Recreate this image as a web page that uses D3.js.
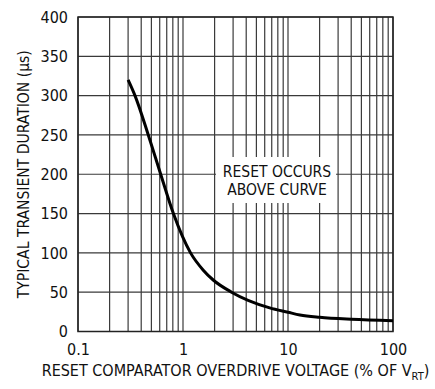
<!DOCTYPE html>
<html>
<head>
<meta charset="utf-8">
<script src="https://cdn.jsdelivr.net/npm/d3@7"></script>
<style>
  html, body { margin: 0; padding: 0; background: #fff; }
  svg text { font-family: "Liberation Sans Narrow", "Arial Narrow", "DejaVu Sans Condensed", sans-serif; fill: #111; }
</style>
</head>
<body>
<svg id="chart" width="435" height="389"></svg>
<script>
// ---- data ----
const overdrive = [0.3, 0.349, 0.467, 0.613, 0.81, 1.18, 1.56, 1.94, 2.9, 6.7, 10, 13, 20, 40, 100];
const duration  = [320, 300, 250, 200, 150, 100, 78, 65.5, 50, 30, 24.5, 21, 18, 15.5, 13.8];
const xTickValues = [0.1, 1, 10, 100];
const xTickLabels = ["0.1", "1", "10", "100"];
const yTickValues = [0, 50, 100, 150, 200, 250, 300, 350, 400];
const xTitle = "RESET COMPARATOR OVERDRIVE VOLTAGE (% OF V";
const xTitleSub = "RT";
const yTitle = "TYPICAL TRANSIENT DURATION (µs)";
const noteLines = ["RESET OCCURS", "ABOVE CURVE"];

const svg = d3.select("#chart");
const pL = 78, pR = 393, pT = 17, pB = 331.5;

const x = d3.scaleLog().domain([0.1, 100]).range([pL, pR]);
const y = d3.scaleLinear().domain([0, 400]).range([pB, pT]);

// minor + major vertical gridlines
const xGrid = [];
[0.1, 1, 10].forEach(d => { for (let k = 1; k <= 9; k++) xGrid.push(d * k); });
xGrid.push(100);

const grid = svg.append("g");
grid.selectAll("line.v").data(xGrid).join("line")
  .attr("class", "v")
  .attr("x1", d => x(d)).attr("x2", d => x(d))
  .attr("y1", pT).attr("y2", pB)
  .attr("stroke", "#3a3a3a").attr("stroke-width", 1.2);
grid.selectAll("line.h").data(yTickValues).join("line")
  .attr("class", "h")
  .attr("x1", pL).attr("x2", pR)
  .attr("y1", d => y(d)).attr("y2", d => y(d))
  .attr("stroke", "#3a3a3a").attr("stroke-width", 1.2);

// frame
svg.append("rect")
  .attr("x", pL).attr("y", pT)
  .attr("width", pR - pL).attr("height", pB - pT)
  .attr("fill", "none").attr("stroke", "#222").attr("stroke-width", 1.5);

// note box (white background interrupting grid)
svg.append("rect")
  .attr("x", 216).attr("y", 157)
  .attr("width", 120).attr("height", 46)
  .attr("fill", "#fff");
const note = svg.append("text")
  .attr("text-anchor", "middle")
  .attr("font-size", 15.5);
noteLines.forEach((t, i) => {
  note.append("tspan").attr("x", 277).attr("y", 177 + i * 18).text(t);
});

// curve
const line = d3.line()
  .x((d, i) => x(overdrive[i]))
  .y(d => y(d))
  .curve(d3.curveMonotoneX);
svg.append("path")
  .datum(duration)
  .attr("d", line)
  .attr("fill", "none")
  .attr("stroke", "#000")
  .attr("stroke-width", 3);

// axes via d3 axis generators (labels only)
const xAxis = d3.axisBottom(x).tickValues(xTickValues)
  .tickFormat((d, i) => xTickLabels[i]).tickSize(0).tickPadding(12);
const gx = svg.append("g").attr("transform", `translate(0,${pB})`).call(xAxis);
gx.select(".domain").remove();
gx.selectAll("text").attr("font-size", 16).attr("font-family", null).attr("fill", "#111");

const yAxis = d3.axisLeft(y).tickValues(yTickValues).tickSize(0).tickPadding(10);
const gy = svg.append("g").attr("transform", `translate(${pL},0)`).call(yAxis);
gy.select(".domain").remove();
gy.selectAll("text").attr("font-size", 16).attr("font-family", null).attr("fill", "#111");

// titles
const xt = svg.append("text")
  .attr("x", (pL + pR) / 2).attr("y", 376)
  .attr("text-anchor", "middle").attr("font-size", 16);
xt.append("tspan").text(xTitle);
xt.append("tspan").attr("font-size", 11).attr("dy", 4).text(xTitleSub);
xt.append("tspan").attr("dy", -4).text(")");

svg.append("text")
  .attr("transform", `translate(29,${(pT + pB) / 2}) rotate(-90)`)
  .attr("text-anchor", "middle").attr("font-size", 16)
  .attr("textLength", 248).attr("lengthAdjust", "spacingAndGlyphs")
  .text(yTitle);
</script>
</body>
</html>
